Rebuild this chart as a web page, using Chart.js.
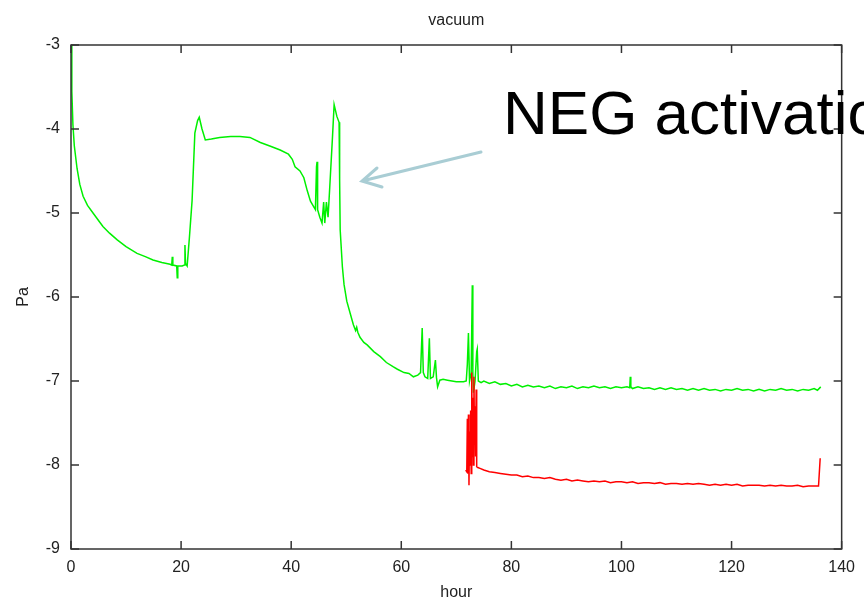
<!DOCTYPE html>
<html>
<head>
<meta charset="utf-8">
<script src="https://cdn.jsdelivr.net/npm/chart.js@4.4.1/dist/chart.umd.min.js"></script>
<style>
  html, body { margin: 0; padding: 0; background: #fff; }
  #wrap { width: 864px; height: 603px; }
</style>
</head>
<body>
<div id="wrap"><canvas id="vacuumChart" width="864" height="603"></canvas></div>
<script>
// -------------------- Data --------------------
const xTicks = [0, 20, 40, 60, 80, 100, 120, 140];
const yTicks = [-9, -8, -7, -6, -5, -4, -3];

// green trace: full pump-down incl. NEG activation
const greenHours = [
  0, 0.15, 0.35, 0.6, 1.1, 1.6, 2.2, 3.0, 4.0, 5.0, 5.8, 7.0, 8.4, 10.0, 12.0, 13.5, 14.9, 16.5, 18.0,
  18.3, 18.4, 18.5, 19.2, 19.3, 19.4, 20.2, 20.6, 20.7, 20.8, 21.1, 21.5, 22.0, 22.5, 23.0, 23.3, 23.8,
  24.4, 25.5, 27.0, 29.0, 30.7, 32.5, 34.4, 36.0, 38.0, 39.5, 40.2, 40.7, 41.6, 42.3, 42.9, 43.5, 44.4,
  44.6, 44.7, 44.8, 45.2, 45.6, 45.9, 46.1, 46.4, 46.7, 47.0, 47.5, 47.8, 48.3, 48.7, 48.8, 48.9, 49.3,
  49.6, 50.1, 50.7, 51.3, 51.7, 51.9, 52.1, 52.5, 53.2, 53.8, 55.0, 56.2, 57.3, 58.5, 59.3, 60.5, 61.4,
  62.2, 63.0, 63.5, 63.8, 64.0, 64.3, 64.8, 65.1, 65.3, 65.8, 66.2, 66.4, 66.6, 67.0, 67.6, 68.4, 69.2,
  70.0, 71.3, 71.8, 72.0, 72.2, 72.4, 72.7, 72.9, 73.0, 73.1, 73.4, 73.7, 73.8, 74.0, 74.5, 75,
  76, 77, 78, 79, 80, 81, 82, 83, 84, 85, 86, 87, 88, 89, 90, 91, 92, 93, 94, 95, 96, 97, 98, 99, 100,
  101, 101.5, 101.6, 101.7, 102, 103, 104, 105, 106, 107, 108, 109, 110, 111, 112, 113, 114, 115, 116,
  117, 118, 119, 120, 121, 122, 123, 124, 125, 126, 127, 128, 129, 130, 131, 132, 133, 134, 135, 135.6, 136.2
];
const greenPa = [
  -3.0, -3.55, -3.95, -4.2, -4.47, -4.66, -4.8, -4.91, -5.0, -5.09, -5.16, -5.24, -5.32, -5.4, -5.48, -5.52, -5.56, -5.59, -5.61,
  -5.62, -5.52, -5.62, -5.63, -5.77, -5.63, -5.63, -5.62, -5.38, -5.6, -5.63, -5.3, -4.85, -4.05, -3.9, -3.86, -4.0,
  -4.13, -4.12, -4.1, -4.09, -4.09, -4.1, -4.16, -4.2, -4.25, -4.3, -4.36, -4.45, -4.5, -4.58, -4.73, -4.86, -4.96,
  -4.45, -4.39, -4.96, -5.05, -5.12, -4.87, -5.12, -4.87, -5.05, -4.7, -4.1, -3.71, -3.85, -3.92, -4.6, -5.2, -5.64,
  -5.85, -6.05, -6.19, -6.33, -6.4, -6.36, -6.42, -6.48, -6.54, -6.57, -6.65, -6.71, -6.78, -6.83, -6.86, -6.9, -6.91,
  -6.95, -6.93, -6.9, -6.37, -6.9, -6.95, -6.97, -6.49, -6.97, -6.95, -6.75, -6.96, -7.07, -6.99, -6.98, -6.99, -7.0,
  -7.01, -7.01, -7.0, -6.8, -6.43, -7.0, -6.9, -5.86, -6.9, -7.14, -7.0, -6.65, -6.62, -7.0, -7.02, -7.0,
  -7.03, -7.01, -7.04, -7.03, -7.06, -7.04, -7.07, -7.05, -7.07, -7.06, -7.08, -7.06, -7.09, -7.07, -7.08, -7.06, -7.09, -7.07, -7.08, -7.06, -7.08, -7.07, -7.09, -7.07, -7.08,
  -7.07, -7.08, -6.95, -7.07, -7.09, -7.07, -7.09, -7.08, -7.1, -7.08, -7.1, -7.08, -7.1, -7.09, -7.11, -7.09, -7.11, -7.09, -7.11,
  -7.1, -7.12, -7.1, -7.11, -7.09, -7.11, -7.1, -7.12, -7.1, -7.12, -7.1, -7.11, -7.09, -7.11, -7.1, -7.12, -7.1, -7.11, -7.09, -7.11, -7.07
];

// red trace: second gauge, starts ~72 h
const redHours = [
  71.7, 71.9, 72.0, 72.1, 72.2, 72.3, 72.4, 72.5, 72.6, 72.7, 72.8, 72.9, 73.0, 73.1, 73.2, 73.3, 73.4, 73.5,
  73.6, 73.7, 73.9, 74.3, 75, 76, 77, 78, 79, 80, 81, 82, 83, 84, 85, 86, 87, 88, 89, 90, 91, 92, 93, 94,
  95, 96, 97, 98, 99, 100, 101, 102, 103, 104, 105, 106, 107, 108, 109, 110, 111, 112, 113, 114, 115, 116,
  117, 118, 119, 120, 121, 122, 123, 124, 125, 126, 127, 128, 129, 130, 131, 132, 133, 134, 135, 135.8, 136.1
];
const redPa = [
  -8.06, -8.08, -7.45, -8.1, -7.4, -8.24, -7.6, -8.0, -7.35, -8.1, -6.9, -7.9, -7.2, -8.0, -6.95, -7.7, -7.3, -7.9,
  -7.1, -8.02, -8.03, -8.04, -8.06, -8.08, -8.09, -8.1, -8.11, -8.12, -8.12, -8.14, -8.13, -8.15, -8.15, -8.16, -8.15, -8.17, -8.18, -8.17, -8.19, -8.18, -8.19, -8.2,
  -8.19, -8.2, -8.19, -8.21, -8.2, -8.2, -8.21, -8.2, -8.22, -8.21, -8.21, -8.22, -8.21, -8.23, -8.22, -8.22, -8.23, -8.22, -8.23, -8.22, -8.23, -8.24,
  -8.23, -8.24, -8.23, -8.24, -8.23, -8.25, -8.24, -8.24, -8.24, -8.25, -8.24, -8.25, -8.24, -8.25, -8.25, -8.24, -8.26, -8.25, -8.25, -8.25, -7.92
];

const toPoints = (xs, ys) => xs.map((x, i) => ({ x, y: ys[i] }));

// -------------------- gnuplot-style frame, inward ticks, labels --------------------
const frameAndText = {
  id: 'frameAndText',
  afterDraw(chart) {
    const { ctx, chartArea: a, scales } = chart;
    ctx.save();
    ctx.strokeStyle = '#333';
    ctx.lineWidth = 1.5;
    ctx.strokeRect(a.left, a.top, a.right - a.left, a.bottom - a.top);

    ctx.beginPath();
    xTicks.forEach(v => {
      const px = scales.x.getPixelForValue(v);
      ctx.moveTo(px, a.bottom); ctx.lineTo(px, a.bottom - 8);
      ctx.moveTo(px, a.top); ctx.lineTo(px, a.top + 8);
    });
    yTicks.forEach(v => {
      const py = scales.y.getPixelForValue(v);
      ctx.moveTo(a.left, py); ctx.lineTo(a.left + 8, py);
      ctx.moveTo(a.right, py); ctx.lineTo(a.right - 8, py);
    });
    ctx.stroke();

    const cx = (a.left + a.right) / 2;
    ctx.fillStyle = '#222';
    ctx.font = '16px "Liberation Sans", Arial, sans-serif';
    ctx.textAlign = 'center';
    ctx.textBaseline = 'alphabetic';
    ctx.fillText('vacuum', cx, 25);
    ctx.fillText('hour', cx, 597);

    ctx.save();
    ctx.translate(28, 297);
    ctx.rotate(-Math.PI / 2);
    ctx.fillText('Pa', 0, 0);
    ctx.restore();

    // annotation arrow
    ctx.strokeStyle = '#a9cdd4';
    ctx.lineWidth = 3;
    ctx.lineCap = 'round';
    ctx.beginPath();
    ctx.moveTo(481, 152); ctx.lineTo(362, 181);
    ctx.moveTo(377, 168); ctx.lineTo(362, 181); ctx.lineTo(382, 187);
    ctx.stroke();

    ctx.fillStyle = '#000';
    ctx.font = '62px "Liberation Sans", Arial, sans-serif';
    ctx.textAlign = 'left';
    ctx.fillText('NEG activation', 503, 134);
    ctx.restore();
  }
};

// -------------------- Chart --------------------
new Chart(document.getElementById('vacuumChart'), {
  type: 'line',
  data: {
    datasets: [
      {
        label: 'gauge 2',
        data: toPoints(redHours, redPa),
        borderColor: '#ff0000',
        borderWidth: 1.5,
        pointRadius: 0,
        order: 0
      },
      {
        label: 'gauge 1',
        data: toPoints(greenHours, greenPa),
        borderColor: '#00f000',
        borderWidth: 1.5,
        pointRadius: 0,
        order: 1
      }
    ]
  },
  options: {
    responsive: false,
    animation: false,
    layout: { padding: { top: 45, right: 22, left: 0, bottom: 0 } },
    plugins: {
      legend: { display: false },
      tooltip: { enabled: false },
      title: { display: false }
    },
    scales: {
      x: {
        type: 'linear',
        min: 0,
        max: 140,
        afterFit: s => { s.height = 54; },
        afterBuildTicks: s => { s.ticks = xTicks.map(v => ({ value: v })); },
        grid: { drawOnChartArea: false, drawTicks: false },
        border: { display: false },
        ticks: { color: '#222', padding: 9, maxRotation: 0, font: { size: 16, family: '"Liberation Sans", Arial, sans-serif' } }
      },
      y: {
        type: 'linear',
        min: -9,
        max: -3,
        afterFit: s => { s.width = 71; },
        afterBuildTicks: s => { s.ticks = yTicks.map(v => ({ value: v })); },
        grid: { drawOnChartArea: false, drawTicks: false },
        border: { display: false },
        ticks: { color: '#222', padding: 11, font: { size: 16, family: '"Liberation Sans", Arial, sans-serif' } }
      }
    }
  },
  plugins: [frameAndText]
});
</script>
</body>
</html>
